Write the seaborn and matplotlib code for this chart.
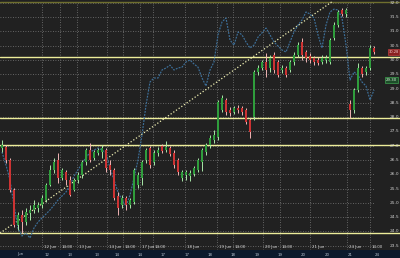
import matplotlib
matplotlib.use("Agg")
import matplotlib.pyplot as plt
import numpy as np
import pandas as pd
import seaborn as sns
from matplotlib.patches import Rectangle

# ---------------- data ----------------
opens = [26.92, 26.95, 26.50, 25.45, 24.22, 24.57, 24.33, 24.64, 24.75, 24.82,
         24.92, 25.10, 25.62, 26.15, 26.50, 25.87, 26.08, 25.80, 25.45, 25.80,
         25.97, 26.43, 26.85, 26.57, 26.74, 26.78, 26.85, 26.32, 26.15, 25.24,
         24.92, 25.17, 24.92, 25.03, 25.62, 25.87, 26.50, 26.92, 26.43, 26.74,
         26.99, 26.85, 26.92, 26.74, 26.50, 25.87, 25.97, 25.94, 26.01, 26.15,
         26.43, 26.78, 27.02, 27.20, 27.30, 28.25, 28.60, 28.25, 28.18, 28.32,
         28.32, 28.25, 27.90, 28.00, 29.58, 29.72, 29.93, 29.72, 30.17, 29.93,
         29.65, 29.72, 29.65, 29.93, 30.17, 30.63, 30.28, 30.14, 30.07, 30.00,
         29.93, 30.00, 29.93, 30.77, 31.22, 31.75, 31.61, 28.46, 28.25, 28.95,
         29.72, 29.58, 29.72, 30.42]
closes = [27.02, 26.50, 25.45, 24.22, 24.57, 24.33, 24.68, 24.75, 24.92, 24.92,
          25.17, 25.62, 26.15, 26.43, 25.87, 26.15, 25.80, 25.27, 25.80, 25.97,
          26.43, 26.85, 26.50, 26.78, 26.85, 26.92, 26.22, 26.15, 25.17, 24.82,
          25.17, 24.92, 25.10, 26.15, 25.97, 26.43, 26.85, 26.32, 26.74, 26.85,
          26.81, 26.95, 26.71, 26.32, 26.08, 26.08, 26.08, 26.04, 26.22, 26.50,
          26.85, 27.02, 27.27, 27.37, 28.53, 28.67, 28.18, 28.14, 28.32, 28.25,
          28.18, 27.83, 27.48, 29.58, 29.72, 29.93, 29.65, 30.07, 29.65, 29.47,
          29.72, 29.47, 29.93, 30.17, 30.52, 30.17, 30.07, 30.00, 29.93, 29.89,
          30.07, 30.07, 30.70, 31.22, 31.68, 31.61, 31.75, 28.25, 28.95, 29.72,
          29.51, 29.72, 30.42, 30.28]
highs = [27.20, 27.02, 26.57, 25.52, 24.68, 24.75, 24.82, 24.92, 25.10, 25.03,
         25.27, 25.69, 26.32, 26.57, 26.74, 26.22, 26.15, 25.94, 25.87, 26.08,
         26.50, 26.92, 27.09, 26.85, 26.92, 27.02, 26.92, 26.50, 26.22, 25.38,
         25.27, 25.24, 25.17, 26.22, 26.08, 26.50, 26.92, 26.99, 26.85, 26.95,
         27.06, 27.16, 26.99, 26.85, 26.57, 26.15, 26.15, 26.15, 26.29, 26.57,
         26.92, 27.09, 27.37, 27.55, 28.60, 28.77, 28.67, 28.35, 28.39, 28.42,
         28.39, 28.32, 27.97, 29.65, 29.82, 30.00, 30.24, 30.17, 30.28, 30.00,
         29.82, 29.79, 30.00, 30.28, 30.63, 30.77, 30.35, 30.24, 30.14, 30.10,
         30.17, 30.17, 30.77, 31.33, 31.75, 31.82, 31.82, 28.60, 29.02, 29.89,
         29.79, 29.79, 30.52, 30.49]
lows = [26.78, 26.39, 25.38, 24.15, 24.05, 23.94, 24.22, 24.40, 24.64, 24.68,
        24.82, 25.03, 25.59, 26.04, 25.69, 25.80, 25.62, 25.24, 25.41, 25.69,
        25.87, 26.32, 26.43, 26.50, 26.67, 26.57, 26.08, 25.97, 25.10, 24.57,
        24.82, 24.75, 24.82, 24.96, 25.52, 25.62, 26.39, 26.22, 26.32, 26.64,
        26.74, 26.78, 26.64, 26.22, 25.97, 25.76, 25.80, 25.76, 25.94, 26.08,
        26.11, 26.67, 26.92, 27.09, 27.20, 28.18, 28.07, 28.04, 28.11, 28.14,
        28.07, 27.76, 27.27, 27.90, 29.47, 29.65, 29.40, 29.58, 29.54, 29.40,
        29.54, 29.40, 29.58, 29.82, 30.10, 30.00, 29.93, 29.89, 29.82, 29.82,
        29.86, 29.89, 29.86, 30.70, 31.15, 31.54, 31.50, 27.97, 28.14, 28.88,
        29.40, 29.47, 29.65, 30.21]
# comparison series (blue dotted line)
compare = [26.78, 26.32, 25.80, 24.92, 24.12, 23.84, 23.94, 23.77, 24.12, 24.33,
           24.47, 24.61, 24.75, 24.92, 25.10, 25.24, 25.38, 25.62, 25.94, 26.15,
           26.39, 26.57, 26.78, 26.85, 26.92, 26.85, 26.74, 26.22, 25.80, 25.38,
           25.10, 24.89, 25.27, 25.87, 26.50, 27.37, 28.42, 29.23, 29.37, 29.37,
           29.65, 29.72, 29.82, 29.65, 29.72, 29.75, 29.93, 30.00, 29.86, 29.75,
           29.37, 29.09, 29.65, 29.93, 30.88, 31.33, 31.47, 30.70, 30.52, 30.98,
           30.88, 30.63, 30.42, 30.52, 30.80, 30.95, 31.12, 30.88, 30.63, 30.49,
           30.35, 30.28, 30.63, 30.98, 31.22, 31.40, 31.68, 31.61, 31.47, 30.88,
           30.42, 31.22, 31.68, 31.78, 31.75, 31.47, 30.52, 29.30, 29.58, 29.47,
           29.23, 29.09, 28.60, 28.95]

levels = [30.10, 27.97, 27.02, 23.94]      # horizontal support / resistance
top_level = 32.03
trend_x = [-0.5, 82.5]                      # trend line anchors (bar index)
trend_y = [23.94, 32.04]
vgrid_x = [10, 14.5, 18.75, 26.25, 30.25, 34.5, 37.75, 45.75, 53.75, 57.75,
           65.25, 69.5, 77, 86.25, 92]
price_ticks = [24.0, 24.5, 25.0, 25.5, 26.0, 26.5, 27.0, 27.5, 28.0, 28.5,
               29.0, 29.5, 30.0, 30.5, 31.0, 31.5, 32.0, 23.5]
price_labels = ["24.0", "24.5", "25.0", "25.5", "26.0", "26.5", "27.0", "27.5",
                "28.0", "28.5", "29.0", "29.5", "30.0", "30.5", "31.0", "31.5",
                "32.0", "23.5"]
date_top = ["12 Jun", "14:00", "13 Jun", "14 Jun", "14:00", "17 Jun", "14:00",
            "18 Jun", "19 Jun", "14:00", "20 Jun", "14:00", "21 Jun", "24 Jun", "14:00"]
band_x = [4.5, 11.25, 17, 23.75, 28.75, 34.5, 40.25, 46.25, 52, 57.75, 63.75,
          69.5, 75.25, 81.25, 87, 93.75]
band_labels = ["Jun", "12", "13", "13", "14", "14", "17", "17", "18", "18",
               "19", "19", "20", "20", "21", "24"]
last_tag = 30.28
compare_tag = 29.30

# ---------------- style ----------------
BG = "#212121"
sns.set_theme(style="dark", rc={"axes.facecolor": BG, "figure.facecolor": BG})
plt.rcParams["font.family"] = ["DejaVu Sans"]

fig = plt.figure(figsize=(4.0, 2.58), dpi=100)
ax = fig.add_axes([0, 8 / 258, 1, 250 / 258])
ax.set_facecolor(BG)
ax.set_xlim(-0.5, 99.5)
ax.set_ylim(23.35, 32.1)
for s in ax.spines.values():
    s.set_visible(False)
ax.set_xticks([])
ax.set_yticks([])
ax.grid(False)

# dotted grid
grid_kw = dict(color="#7a7a7a", lw=0.6, linestyle=(0, (1, 2)), zorder=1)
ax.hlines(price_ticks, -0.5, 93.2, **grid_kw)
ax.vlines(vgrid_x, 23.35, 32.1, **grid_kw)

# horizontal levels
ax.axhline(top_level, color="#6f6f2e", lw=1.0, zorder=2)
for lv in levels:
    ax.axhline(lv, color="#eded9a", lw=1.0, zorder=2)

# trend line
ax.plot(trend_x, trend_y, color="#f0f0b4", lw=0.9, linestyle=(0, (1, 1.6)), zorder=3)

# comparison line
idx = np.arange(len(compare))
df = pd.DataFrame({"i": idx, "v": compare})
sns.lineplot(data=df, x="i", y="v", ax=ax, color="#3d6f99", lw=0.85,
             linestyle=(0, (1.6, 1.0)), zorder=4, legend=False)
ax.set_xlabel("")
ax.set_ylabel("")

# candles
for i, (o, h, l, c) in enumerate(zip(opens, highs, lows, closes)):
    up = c >= o
    body = "#2f9d3c" if up else "#cc3333"
    wick = "#a8e8a8" if up else "#f0b4b4"
    ax.vlines(i, l, h, color=wick, lw=0.7, zorder=5)
    ax.bar(i, max(abs(c - o), 0.03), bottom=min(o, c), width=0.62,
           color=body, linewidth=0, zorder=6)

# right-side price labels
for t, lab in zip(price_ticks, price_labels):
    ax.text(96.9, t, lab, fontsize=3.2, color="#cfcfcf", va="center", ha="left", zorder=7)

# price tags
ax.text(96.6, last_tag, f"{last_tag:.2f}", fontsize=2.6, color="#f0d0d0", va="center",
        ha="left", zorder=8,
        bbox=dict(boxstyle="square,pad=0.2", fc="#8a2020", ec="#c04040", lw=0.5))
ax.text(96.0, compare_tag, f"{compare_tag:.2f}", fontsize=2.8, color="#d8f0d8", va="center",
        ha="left", zorder=8,
        bbox=dict(boxstyle="square,pad=0.2", fc="#1d4d2a", ec="#3fa050", lw=0.5))

# bottom date labels
for x, lab in zip(vgrid_x, date_top):
    ax.text(x + 0.4, 23.47, lab, fontsize=2.8, color="#d8d8d8", va="center", ha="left", zorder=7)

# bottom navy band
fig.patches.append(Rectangle((0, 0), 1, 8 / 258, transform=fig.transFigure,
                             facecolor="#0c1a2c", edgecolor="none", zorder=0))
for x, lab in zip(band_x, band_labels):
    fx = (x + 0.5) / 100.0
    fig.text(fx, 3.5 / 258, lab, fontsize=2.8, color="#b8c4d0", va="center", ha="center")

fig.savefig("out.png", dpi=100, facecolor=BG)
